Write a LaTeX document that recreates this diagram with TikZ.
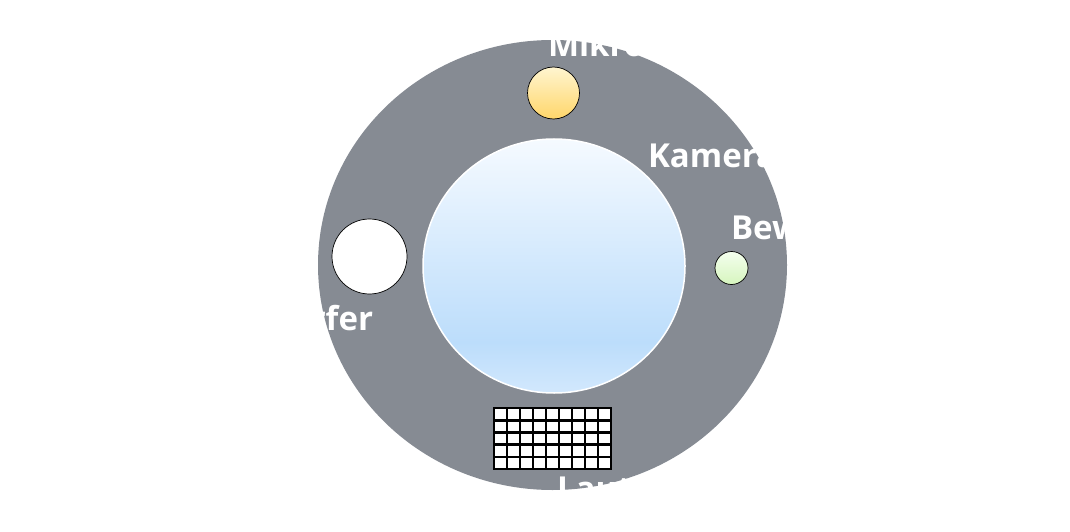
\documentclass[tikz,border=0pt]{standalone}
\usepackage{fontspec}
\setmainfont{Open Sans}
\usepackage{xcolor}
\usepackage{tikz}
\usetikzlibrary{positioning}

\definecolor{ringgray}{RGB}{134,139,147}
\definecolor{lenstop}{RGB}{245,250,255}
\definecolor{lensmid}{RGB}{188,221,251}
\definecolor{lensbot}{RGB}{210,232,253}
\pgfdeclareverticalshading{lensshade}{100bp}{color(0bp)=(lensbot); color(25bp)=(lensbot); color(35bp)=(lensmid); color(75bp)=(lenstop); color(100bp)=(lenstop)}

\begin{document}
\begin{tikzpicture}[x=1pt, y=1pt, every node/.style={inner sep=0pt, outer sep=0pt},
  part/.style={circle, draw=black, line width=0.7pt},
  lbl/.style={text=white, font=\fontsize{33}{33}\selectfont\bfseries}]
\useasboundingbox (0,0) rectangle (1070,531);
% housing and lens
\fill[ringgray] (552.5,266) ellipse [x radius=234.5, y radius=225];
\path[shading=lensshade, draw=white, line width=1.5pt] (554,265) ellipse [x radius=131, y radius=127];
\node[circle, minimum size=262pt] (lens) at (554,265) {};
% parts round the lens
\node[part, top color={rgb,255:red,255;green,245;blue,208}, bottom color={rgb,255:red,255;green,214;blue,106}, minimum width=52pt, minimum height=48pt] (mic) at (553.5,438) {};
\node[part, top color={rgb,255:red,244;green,255;blue,238}, bottom color={rgb,255:red,214;green,245;blue,190}, minimum size=33pt] (motion) at (731.5,263) {};
\node[part, fill=white, minimum size=75pt] (light) at (369.5,274.5) {};
% speaker grille
\filldraw[fill=white, draw=black, line width=2pt] (494,62) rectangle (611,123);
\foreach \i in {1,...,8} \draw[line width=2.6pt] (494+13*\i,62) -- (494+13*\i,123);
\foreach \j in {1,...,4} \draw[line width=2.6pt] (494,62+12.2*\j) -- (611,62+12.2*\j);
\coordinate (grille) at (552.5,92.5);
% labels
\node[lbl, anchor=base west] (micl) at (548,474) {Mikrofon};
\node[lbl, anchor=base west] (caml) at (648,363) {Kamera};
\node[lbl, anchor=base west] (motl) at (731,292) {Bewegungsmelder};
\node[lbl, anchor=base east] (ligl) at (373,201) {Scheinwerfer};
\node[lbl, anchor=base west] (spkl) at (557,31) {Lautsprecher};
\end{tikzpicture}
\end{document}
